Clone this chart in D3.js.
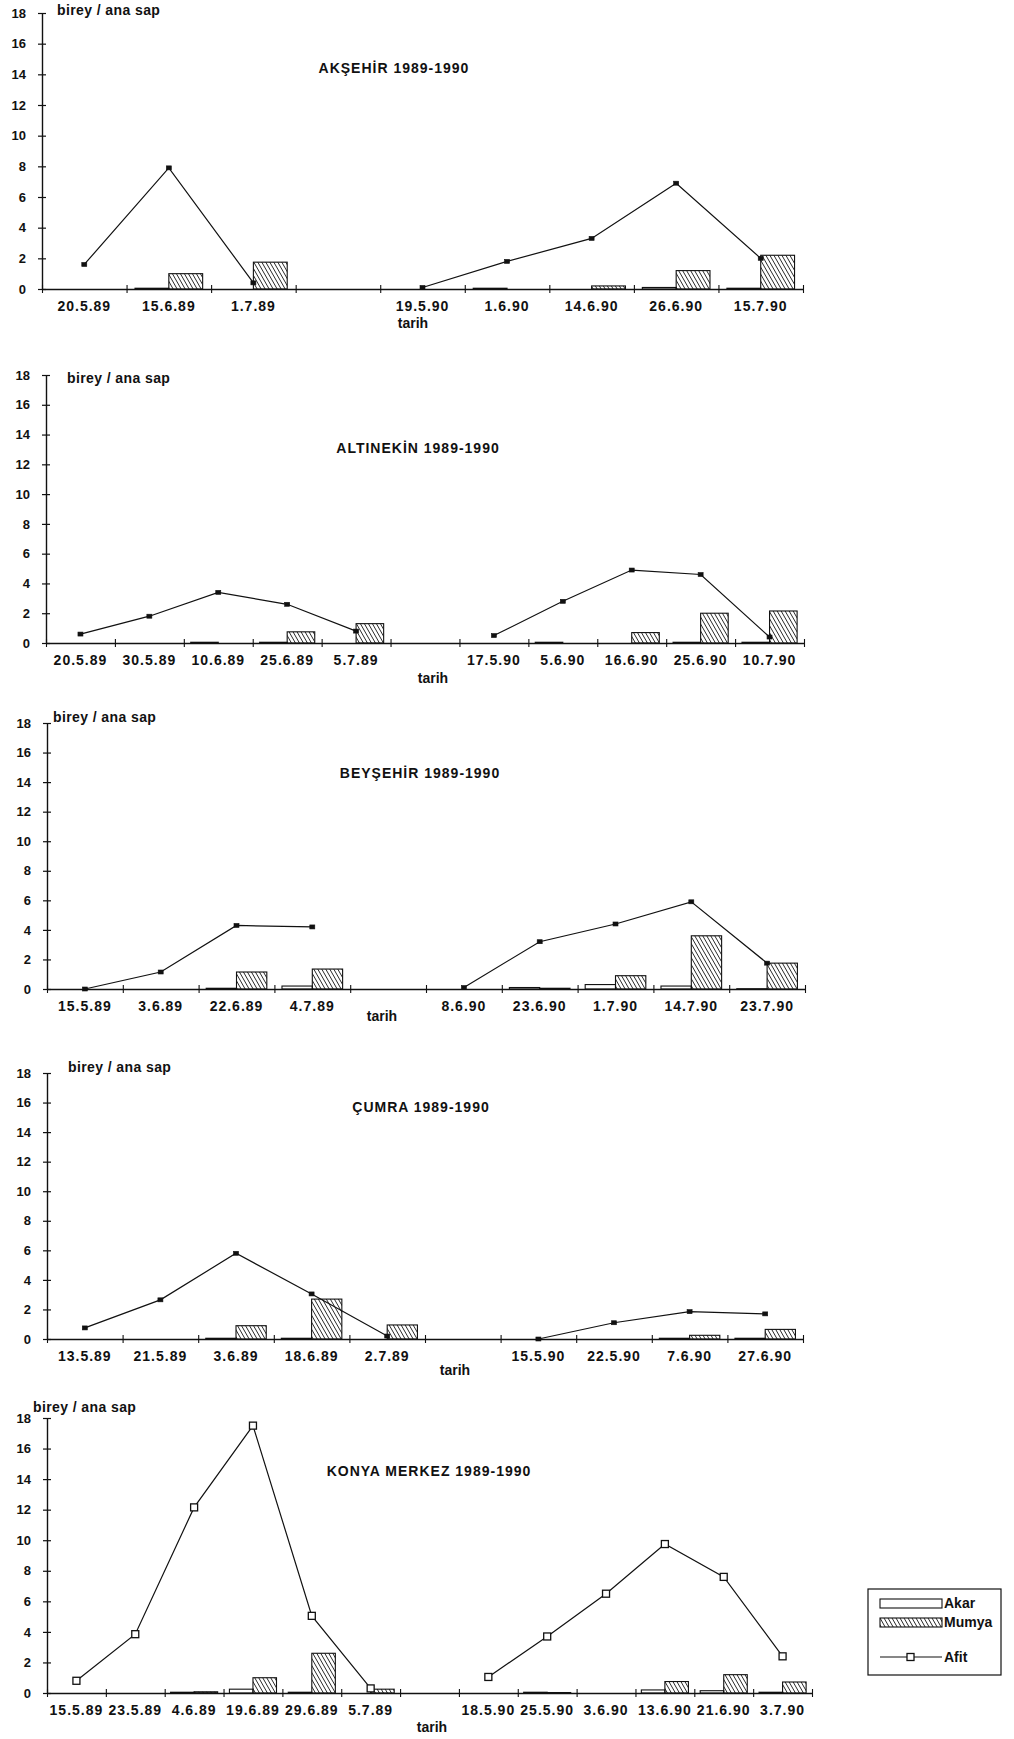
<!DOCTYPE html>
<html>
<head>
<meta charset="utf-8">
<script src="https://cdn.jsdelivr.net/npm/d3@7"></script>
<style>
  body { margin: 0; background: #fff; }
  svg { display: block; }
  text { font-family: "Liberation Sans", Arial, sans-serif; font-weight: bold; fill: #111; }
</style>
</head>
<body>
<svg id="chart" width="1014" height="1739"></svg>
<script>
// ---- data: individuals per main stem (birey / ana sap) ----
const yTickValues = [0, 2, 4, 6, 8, 10, 12, 14, 16, 18];
const seriesNames = ["Akar", "Mumya", "Afit"];

// Akşehir
const aksehirDates = ["20.5.89", "15.6.89", "1.7.89", "", "19.5.90", "1.6.90", "14.6.90", "26.6.90", "15.7.90"];
const aksehirAkar  = [0, 0.05, 0, null, 0, 0.05, 0, 0.1, 0.05];
const aksehirMumya = [0, 1.0, 1.75, null, 0, 0, 0.2, 1.2, 2.2];
const aksehirAfit  = [1.6, 7.9, 0.4, null, 0.1, 1.8, 3.3, 6.9, 2.0];

// Altınekin
const altinekinDates = ["20.5.89", "30.5.89", "10.6.89", "25.6.89", "5.7.89", "", "17.5.90", "5.6.90", "16.6.90", "25.6.90", "10.7.90"];
const altinekinAkar  = [0, 0, 0.05, 0.05, 0, null, 0, 0.05, 0, 0.05, 0.05];
const altinekinMumya = [0, 0, 0, 0.75, 1.3, null, 0, 0, 0.7, 2.0, 2.15];
const altinekinAfit  = [0.6, 1.8, 3.4, 2.6, 0.8, null, 0.5, 2.8, 4.9, 4.6, 0.4];

// Beyşehir
const beysehirDates = ["15.5.89", "3.6.89", "22.6.89", "4.7.89", "", "8.6.90", "23.6.90", "1.7.90", "14.7.90", "23.7.90"];
const beysehirAkar  = [0, 0, 0.05, 0.2, null, 0, 0.1, 0.3, 0.2, 0.02];
const beysehirMumya = [0, 0, 1.15, 1.35, null, 0, 0.05, 0.9, 3.6, 1.75];
const beysehirAfit  = [0, 1.15, 4.3, 4.2, null, 0.1, 3.2, 4.4, 5.9, 1.75];

// Çumra
const cumraDates = ["13.5.89", "21.5.89", "3.6.89", "18.6.89", "2.7.89", "", "15.5.90", "22.5.90", "7.6.90", "27.6.90"];
const cumraAkar  = [0, 0, 0.05, 0.05, 0, null, 0, 0, 0.05, 0.05];
const cumraMumya = [0, 0, 0.9, 2.7, 0.95, null, 0, 0, 0.25, 0.65];
const cumraAfit  = [0.75, 2.65, 5.8, 3.05, 0.2, null, 0, 1.1, 1.85, 1.7];

// Konya Merkez
const konyaDates = ["15.5.89", "23.5.89", "4.6.89", "19.6.89", "29.6.89", "5.7.89", "", "18.5.90", "25.5.90", "3.6.90", "13.6.90", "21.6.90", "3.7.90"];
const konyaAkar  = [0, 0, 0.05, 0.25, 0.05, 0, null, 0, 0.05, 0, 0.2, 0.15, 0.05];
const konyaMumya = [0, 0, 0.08, 1.0, 2.6, 0.25, null, 0, 0.03, 0, 0.75, 1.2, 0.72];
const konyaAfit  = [0.8, 3.85, 12.15, 17.5, 5.05, 0.3, null, 1.05, 3.7, 6.5, 9.75, 7.6, 2.4];

const panels = [
  { title: "AKŞEHİR 1989-1990",      dates: aksehirDates,   akar: aksehirAkar,   mumya: aksehirMumya,   afit: aksehirAfit },
  { title: "ALTINEKİN 1989-1990",    dates: altinekinDates, akar: altinekinAkar, mumya: altinekinMumya, afit: altinekinAfit },
  { title: "BEYŞEHİR 1989-1990",     dates: beysehirDates,  akar: beysehirAkar,  mumya: beysehirMumya,  afit: beysehirAfit },
  { title: "ÇUMRA 1989-1990",        dates: cumraDates,     akar: cumraAkar,     mumya: cumraMumya,     afit: cumraAfit },
  { title: "KONYA MERKEZ 1989-1990", dates: konyaDates,     akar: konyaAkar,     mumya: konyaMumya,     afit: konyaAfit }
];

// ---- layout of each panel on the page ----
const frames = [
  { x0: 42, x1: 803, yTop: 13,   yZero: 289,  title: [394, 73],   unit: [57, 15],   tarih: [413, 328],  openMarker: false },
  { x0: 46, x1: 804, yTop: 375,  yZero: 643,  title: [418, 453],  unit: [67, 383],  tarih: [433, 683],  openMarker: false },
  { x0: 47, x1: 805, yTop: 723,  yZero: 989,  title: [420, 778],  unit: [53, 722],  tarih: [382, 1021], openMarker: false },
  { x0: 47, x1: 803, yTop: 1073, yZero: 1339, title: [421, 1112], unit: [68, 1072], tarih: [455, 1375], openMarker: false },
  { x0: 47, x1: 812, yTop: 1418, yZero: 1693, title: [429, 1476], unit: [33, 1412], tarih: [432, 1732], openMarker: true }
];

const ink = "#111";
const svg = d3.select("#chart");

// diagonal hatch for the Mumya bars
const defs = svg.append("defs");
defs.append("pattern")
    .attr("id", "hatch")
    .attr("patternUnits", "userSpaceOnUse")
    .attr("width", 4).attr("height", 7)
  .append("path")
    .attr("d", "M-1,-1.75L5,8.75M-5,-1.75L1,8.75M3,-1.75L9,8.75")
    .attr("stroke", ink).attr("stroke-width", 0.9);

panels.forEach((p, i) => {
  const f = frames[i];
  const n = p.dates.length;
  const g = svg.append("g");

  const y = d3.scaleLinear().domain([0, 18]).range([f.yZero, f.yTop]);
  const x = d3.scaleBand().domain(d3.range(n)).range([f.x0, f.x1]).padding(0);
  const sub = d3.scaleBand().domain(["Akar", "Mumya"]).range([0, x.bandwidth()])
      .paddingInner(0).paddingOuter(0.25);
  const edge = d3.scaleLinear().domain([0, n]).range([f.x0, f.x1]);

  // bars
  const barData = [];
  p.dates.forEach((d, k) => {
    if (p.akar[k] > 0)  barData.push({ k, s: "Akar",  v: p.akar[k] });
    if (p.mumya[k] > 0) barData.push({ k, s: "Mumya", v: p.mumya[k] });
  });
  g.append("g").selectAll("rect").data(barData).join("rect")
      .attr("x", d => x(d.k) + sub(d.s))
      .attr("width", sub.bandwidth())
      .attr("y", d => y(d.v))
      .attr("height", d => y(0) - y(d.v))
      .attr("fill", d => d.s === "Mumya" ? "url(#hatch)" : "#fff")
      .attr("stroke", ink).attr("stroke-width", 1.1);

  // y axis with crossing ticks
  const ya = g.append("g").attr("transform", `translate(${f.x0},0)`)
      .call(d3.axisLeft(y).tickValues(yTickValues).tickSizeInner(4).tickSizeOuter(0).tickPadding(12));
  ya.select(".domain").attr("stroke", ink).attr("stroke-width", 1.4);
  ya.selectAll(".tick line").attr("x1", 4).attr("stroke", ink).attr("stroke-width", 1.2);
  ya.selectAll(".tick text").attr("font-size", 13).attr("font-family", null);

  // x axis: baseline with band-edge ticks
  const xa = g.append("g").attr("transform", `translate(0,${f.yZero})`)
      .call(d3.axisBottom(edge).tickValues(d3.range(n + 1)).tickFormat("").tickSizeInner(4).tickSizeOuter(0));
  xa.select(".domain").attr("stroke", ink).attr("stroke-width", 1.4);
  xa.selectAll(".tick line").attr("y1", -4).attr("stroke", ink).attr("stroke-width", 1.1);

  // date labels centred in each band
  const xl = g.append("g").attr("transform", `translate(0,${f.yZero})`)
      .call(d3.axisBottom(x).tickFormat(k => p.dates[k]).tickSize(0));
  xl.select(".domain").remove();
  xl.selectAll(".tick text")
      .attr("y", 22).attr("dy", null)
      .attr("font-size", 14).attr("font-family", null)
      .attr("letter-spacing", 1);

  // Afit line
  const cx = k => x(k) + x.bandwidth() / 2;
  const afitPts = p.afit.map((v, k) => ({ k, v }));
  g.append("path")
      .datum(afitPts)
      .attr("fill", "none").attr("stroke", ink).attr("stroke-width", 1.2)
      .attr("d", d3.line().defined(d => d.v != null).x(d => cx(d.k)).y(d => y(d.v)));
  const ms = f.openMarker ? 7 : 5;
  g.append("g").selectAll("rect").data(afitPts.filter(d => d.v != null)).join("rect")
      .attr("x", d => cx(d.k) - ms / 2)
      .attr("y", d => y(d.v) - (f.openMarker ? ms / 2 : 2))
      .attr("width", ms).attr("height", f.openMarker ? ms : 4)
      .attr("fill", f.openMarker ? "#fff" : ink)
      .attr("stroke", ink).attr("stroke-width", f.openMarker ? 1.3 : 0.6);

  // texts
  g.append("text").attr("x", f.title[0]).attr("y", f.title[1])
      .attr("text-anchor", "middle").attr("font-size", 14).attr("letter-spacing", 1)
      .text(p.title);
  g.append("text").attr("x", f.unit[0]).attr("y", f.unit[1])
      .attr("font-size", 14).attr("letter-spacing", 0.4)
      .text("birey / ana sap");
  g.append("text").attr("x", f.tarih[0]).attr("y", f.tarih[1])
      .attr("text-anchor", "middle").attr("font-size", 14)
      .text("tarih");
});

// legend
const legend = svg.append("g").attr("transform", "translate(868,1589)");
legend.append("rect").attr("width", 133).attr("height", 86)
    .attr("fill", "#fff").attr("stroke", ink).attr("stroke-width", 1.2);
const items = legend.selectAll("g.item").data(seriesNames).join("g")
    .attr("class", "item")
    .attr("transform", (d, i) => `translate(12,${[10, 29, 68][i]})`);
items.filter(d => d !== "Afit").append("rect")
    .attr("width", 62).attr("height", 9)
    .attr("fill", d => d === "Mumya" ? "url(#hatch)" : "#fff")
    .attr("stroke", ink).attr("stroke-width", 1.1);
const afitItem = items.filter(d => d === "Afit");
afitItem.append("line").attr("x1", 0).attr("x2", 62).attr("y1", 0).attr("y2", 0)
    .attr("stroke", ink).attr("stroke-width", 1.2);
afitItem.append("rect").attr("x", 27).attr("y", -3.5).attr("width", 7).attr("height", 7)
    .attr("fill", "#fff").attr("stroke", ink).attr("stroke-width", 1.3);
items.append("text")
    .attr("x", 64)
    .attr("y", d => d === "Afit" ? 5 : 9)
    .attr("font-size", 14)
    .text(d => d);
</script>
</body>
</html>
